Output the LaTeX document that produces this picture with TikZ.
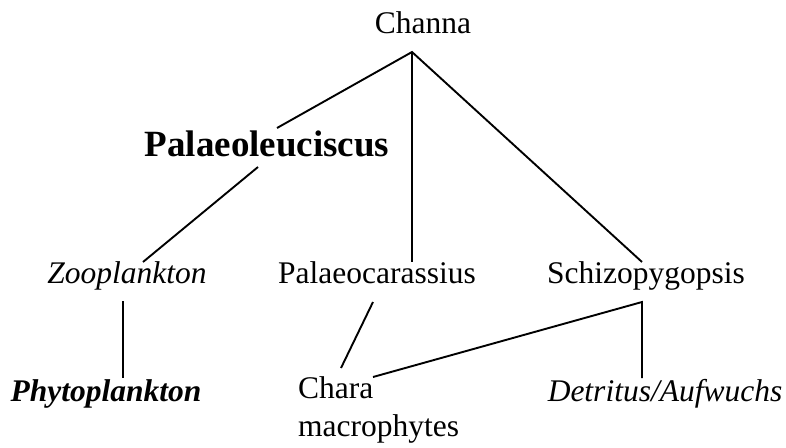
\documentclass[tikz,border=0pt]{standalone}
\usepackage{fontspec}
\setmainfont{Liberation Serif}
\begin{document}
\begin{tikzpicture}[x=1pt,y=-1pt,
  lbl/.style={inner sep=0pt,anchor=base,font=\fontsize{31.5}{38}\selectfont},
  big/.style={inner sep=0pt,anchor=base,font=\fontsize{37}{44}\selectfont\bfseries},
  link/.style={line width=1.9pt}]
\useasboundingbox (0,0) rectangle (786,447);
% nodes
\node[lbl] (channa) at (423,33) {Channa};
\node[big] (pleu) at (267,156) {Palaeoleuciscus};
\node[lbl] (zoo) at (127,283) {\itshape Zooplankton};
\node[lbl] (pcar) at (377,283) {Palaeocarassius};
\node[lbl] (schi) at (646,283) {Schizopygopsis};
\node[lbl] (phyto) at (106,401) {\bfseries\itshape Phytoplankton};
\node[lbl,anchor=base west,align=left] (chara) at (298,436) {Chara\\macrophytes};
\node[lbl] (detr) at (665,401) {\itshape Detritus/Aufwuchs};
% attachment points
\coordinate (cA) at (412,52);
\coordinate (pleuT) at (277,128);
\coordinate (pleuB) at (258,167);
\coordinate (zooT) at (143,262);
\coordinate (zooB) at (123,301);
\coordinate (pcarT) at (412,262);
\coordinate (pcarB) at (373,302);
\coordinate (schiT) at (642,262);
\coordinate (schiB) at (642,302);
\coordinate (phytoT) at (123,378);
\coordinate (charaT) at (341,368);
\coordinate (charaR) at (373,377);
\coordinate (detrT) at (642,378);
% connectors
\draw[link] (pleuT) -- (cA) -- (schiT);
\draw[link] (cA) -- (pcarT);
\draw[link] (pleuB) -- (zooT);
\draw[link] (zooB) -- (phytoT);
\draw[link] (pcarB) -- (charaT);
\draw[link] (charaR) -- (schiB) -- (detrT);
\end{tikzpicture}
\end{document}
